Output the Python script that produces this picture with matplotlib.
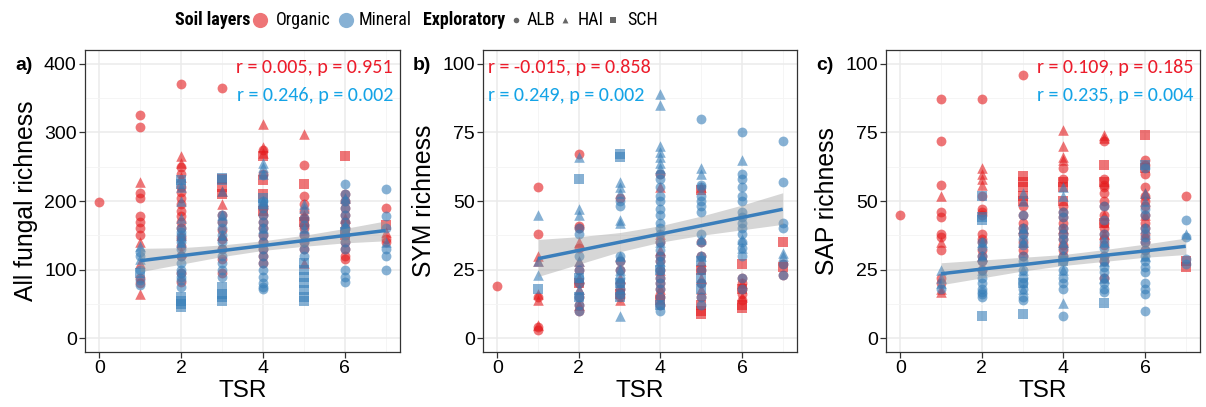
import matplotlib
matplotlib.use("Agg")
import matplotlib.pyplot as plt
from matplotlib import font_manager

# ---------------- data ----------------
# values per TSR level: {TSR: [richness, ...]}
A_ORG_ALB = {0: [198], 1: [325, 308, 212, 205, 178, 170, 160, 150, 88, 80],
             2: [370, 250, 240, 220, 213, 205, 195, 185, 178, 170, 160, 148, 135, 120, 95, 82],
             3: [365, 180, 170, 158, 145, 130, 115, 95],
             4: [275, 240, 190, 180, 170, 160, 150, 140, 130, 120, 110],
             5: [252, 208, 195, 185, 175, 165, 160, 150, 140, 130],
             6: [210, 200, 190, 180, 170, 160, 150, 140, 130, 120, 115], 7: [190, 145, 140]}
A_ORG_HAI = {1: [228, 140, 110, 65], 2: [265, 255, 235, 150, 125], 3: [215, 195, 150],
             4: [312, 278, 270, 200], 5: [298, 180, 110], 6: [205, 175], 7: [155]}
A_ORG_SCH = {3: [232, 220, 210], 4: [265, 230, 210, 185], 5: [225, 170], 6: [265, 150], 7: [165]}
A_MIN_ALB = {1: [125, 120, 100, 85, 78],
             2: [160, 155, 150, 145, 140, 130, 120, 110, 100, 95, 90, 85, 75],
             3: [180, 170, 160, 150, 140, 130, 120, 110, 100, 90],
             4: [238, 200, 190, 180, 170, 160, 150, 140, 130, 120, 110, 100, 90, 80, 75, 72],
             5: [175, 165, 150, 140, 130, 120],
             6: [225, 210, 200, 190, 180, 170, 160, 150, 140, 130, 100, 90, 82],
             7: [217, 178, 160, 130, 120, 100]}
A_MIN_HAI = {1: [135, 115], 2: [220, 200, 175, 140], 3: [215, 180, 150],
             4: [255, 250, 240, 200, 160], 5: [195, 190, 160], 6: [205, 165], 7: [140]}
A_MIN_SCH = {1: [95], 2: [230, 225, 60, 55, 50, 45], 3: [233, 230, 75, 65, 60, 55],
             4: [205, 195], 5: [110, 100, 90, 80, 70, 60, 55], 6: [155]}

B_ORG_ALB = {0: [19], 1: [55, 38, 15, 4, 3], 2: [67, 41, 40, 33, 25, 20, 15, 12, 10],
             3: [51, 28, 25, 20, 18, 15], 4: [60, 35, 30, 28, 25, 22, 20, 18, 15, 12],
             5: [35, 30, 25, 20, 15], 6: [22, 20, 18, 16, 14], 7: [27, 23]}
B_ORG_HAI = {1: [30, 28, 16, 14, 5], 2: [35, 28, 22, 18, 12], 3: [22, 18, 14],
             4: [55, 38, 32, 25, 18], 5: [55, 28, 22, 18], 6: [20, 15]}
B_ORG_SCH = {2: [20], 3: [16], 4: [14], 5: [54, 25, 12, 10, 9], 6: [27, 18, 12, 11], 7: [35, 26]}
B_MIN_ALB = {2: [40, 38, 30, 25, 22, 20, 15, 12, 10],
             3: [50, 48, 30, 28, 25, 22, 20, 18, 16],
             4: [60, 58, 55, 52, 50, 47, 45, 42, 40, 38, 35, 32, 30, 28, 25, 22, 20, 18, 15, 12, 10],
             5: [80, 56, 55, 52, 50, 48, 46, 38, 35, 30, 25, 20, 15, 12],
             6: [75, 60, 58, 55, 52, 50, 46, 44, 42, 40, 38, 35, 33, 30, 22, 18],
             7: [72, 57, 42, 40, 27, 23]}
B_MIN_HAI = {1: [45, 28, 23], 2: [66, 47, 45, 28, 18], 3: [57, 55, 53, 43, 42, 30, 25, 8],
             4: [89, 85, 70, 68, 66, 64, 62, 35, 28], 5: [62, 60, 36, 30], 6: [65, 36, 33], 7: [31, 30]}
B_MIN_SCH = {1: [18], 2: [58, 22, 15], 3: [67, 66, 20, 15], 4: [25, 12], 5: [28, 22, 18]}

C_ORG_ALB = {0: [45], 1: [87, 72, 56, 46, 44, 38, 37, 32, 22, 20],
             2: [87, 52, 47, 46, 45, 38, 36, 35, 32, 30, 28, 25],
             3: [96, 48, 45, 42, 40, 38, 35, 32, 30],
             4: [62, 58, 48, 46, 44, 42, 40, 38, 36, 34, 32, 30],
             5: [72, 58, 56, 55, 53, 50, 48, 45, 42, 40, 38, 36, 34, 30, 28, 22],
             6: [65, 63, 60, 55, 52, 50, 48, 45, 42, 40, 38, 35, 32], 7: [52]}
C_ORG_HAI = {1: [52, 35, 18, 17], 2: [62, 60, 58, 56, 30], 3: [40, 35],
             4: [76, 70, 66, 65, 40, 35], 5: [74, 73, 45, 38], 6: [53, 45, 38]}
C_ORG_SCH = {3: [59, 57, 55, 52, 50], 4: [57, 55, 50], 5: [63, 57, 42], 6: [74, 62], 7: [28, 26]}
C_MIN_ALB = {1: [18], 2: [35, 33, 30, 28, 25, 22, 20, 18, 17, 16, 15],
             3: [45, 40, 38, 36, 34, 30, 28, 25, 22, 20, 18, 15, 14],
             4: [46, 44, 40, 38, 36, 33, 30, 28, 25, 22, 20, 18, 8],
             5: [48, 43, 38, 35, 33, 30, 28, 26, 24, 22, 20, 18, 17],
             6: [62, 47, 45, 40, 37, 35, 32, 30, 28, 26, 24, 20, 18, 16, 10],
             7: [43, 37, 29, 27]}
C_MIN_HAI = {1: [25, 22, 20], 2: [35, 30, 25], 3: [53, 50, 40, 35, 25, 18],
             4: [55, 52, 35, 30, 25, 13], 5: [35, 28, 22], 6: [53, 50, 40, 30], 7: [38]}
C_MIN_SCH = {2: [52, 44, 43, 8], 3: [20, 9], 4: [28], 5: [13], 6: [63]}

# linear fit (mineral) with 95% CI, read at TSR 1..7
FIT_X = [1, 2, 3, 4, 5, 6, 7]
A_FIT = [113, 120.3, 127.7, 135, 142.3, 149.7, 157]
A_LO = [97, 108, 119, 128, 134, 139, 142]
A_HI = [131, 132, 136, 142, 150, 160, 171]
B_FIT = [29, 32, 35, 38, 41, 44, 47]
B_LO = [22.5, 27, 31.5, 35, 37.5, 39.5, 41.5]
B_HI = [36, 37, 38.5, 41, 44.5, 48.5, 53]
C_FIT = [23.5, 25.2, 26.8, 28.5, 30.2, 31.8, 33.5]
C_LO = [19.5, 22, 24.5, 26.5, 28, 29.5, 30.5]
C_HI = [27.5, 28.5, 29.5, 30.5, 32.3, 34.3, 36.5]

Y_LABELS = ["All fungal richness", "SYM richness", "SAP richness"]
PANEL_TAGS = ["a)", "b)", "c)"]
ORG_STATS = ["r = 0.005, p = 0.951", "r = -0.015, p = 0.858", "r = 0.109, p = 0.185"]
MIN_STATS = ["r = 0.246, p = 0.002", "r = 0.249, p = 0.002", "r = 0.235, p = 0.004"]
Y_MAX = [400, 100, 100]
Y_TICKS = [[0, 100, 200, 300, 400], [0, 25, 50, 75, 100], [0, 25, 50, 75, 100]]
X_TICKS = [0, 2, 4, 6]

# legend texts
LEG_SOIL_TITLE = "Soil layers"
LEG_SOIL = ["Organic", "Mineral"]
LEG_EXP_TITLE = "Exploratory"
LEG_EXP = ["ALB", "HAI", "SCH"]

# ---------------- fonts ----------------
avail = {f.name for f in font_manager.fontManager.ttflist}


def pick(cands, default):
    for c in cands:
        if c in avail:
            return [c, "DejaVu Sans"]
    return default


FONT = pick(["Liberation Sans", "Arimo"], ["DejaVu Sans"])
plt.rcParams['font.family'] = FONT
NARROW = pick(["Arial Narrow", "Liberation Sans Narrow", "Roboto Condensed", "Archivo Narrow",
               "PT Sans Narrow", "Fira Sans Condensed"], None)
LEG_FONT = NARROW if NARROW else FONT
LEG_FS = 13 if NARROW else 11
STAT_FONT = pick(["Carlito", "Lato", "Open Sans"], FONT)

RED = "#E41A1C"
BLUE = "#377EB8"
TXT_RED = "#EC1C2B"
TXT_BLUE = "#14A3E6"
MARKERS = {"ALB": "o", "HAI": "^", "SCH": "s"}
SIZES = {"ALB": 50, "HAI": 58, "SCH": 42}

W, H = 1206, 407
fig = plt.figure(figsize=(W / 100, H / 100), dpi=100)

panels = [
    ([A_ORG_ALB, A_ORG_HAI, A_ORG_SCH], [A_MIN_ALB, A_MIN_HAI, A_MIN_SCH], A_FIT, A_LO, A_HI),
    ([B_ORG_ALB, B_ORG_HAI, B_ORG_SCH], [B_MIN_ALB, B_MIN_HAI, B_MIN_SCH], B_FIT, B_LO, B_HI),
    ([C_ORG_ALB, C_ORG_HAI, C_ORG_SCH], [C_MIN_ALB, C_MIN_HAI, C_MIN_SCH], C_FIT, C_LO, C_HI),
]
lefts = [85, 483, 886]
widths = [315, 314, 314]
top, bottom = 50, 352
ah = bottom - top


def scatter_group(ax, groups, color):
    for site, grp in zip(["ALB", "HAI", "SCH"], groups):
        xs, ys = [], []
        for k, vals in grp.items():
            xs += [k] * len(vals)
            ys += vals
        ax.scatter(xs, ys, marker=MARKERS[site], s=SIZES[site], color=color,
                   alpha=0.6, linewidths=0, zorder=3)


for i, (org, mine, fit, lo, hi) in enumerate(panels):
    ax = fig.add_axes([lefts[i] / W, (H - bottom) / H, widths[i] / W, ah / H])
    ym = Y_MAX[i]
    ax.set_xlim(-0.35, 7.35)
    ax.set_ylim(-0.05 * ym, 1.05 * ym)
    ax.set_xticks(X_TICKS)
    ax.set_xticks([1, 3, 5, 7], minor=True)
    ax.set_yticks(Y_TICKS[i])
    ax.set_yticks([t + ym / 8 for t in Y_TICKS[i][:-1]], minor=True)
    ax.grid(True, which="major", color="#EBEBEB", lw=1.1, zorder=0)
    ax.grid(True, which="minor", color="#F4F4F4", lw=0.6, zorder=0)
    ax.set_axisbelow(True)
    for s in ax.spines.values():
        s.set_color("#333333")
        s.set_linewidth(0.9)
    ax.tick_params(which="major", length=4, width=0.9, color="#333333",
                   labelsize=14, labelcolor="black", pad=2)
    ax.tick_params(which="minor", length=0)

    scatter_group(ax, org, RED)
    scatter_group(ax, mine, BLUE)
    ax.fill_between(FIT_X, lo, hi, color="#999999", alpha=0.4, lw=0, zorder=4)
    ax.plot(FIT_X, fit, color="#3A7EBB", lw=2.5, zorder=5, solid_capstyle="butt")

    ax.set_xlabel("TSR", fontsize=17.5, labelpad=2)
    ax.set_ylabel(Y_LABELS[i], fontsize=17.8, labelpad=4)

    y1 = (bottom - 68) / ah
    y2 = (bottom - 95) / ah
    if i == 1:
        xpos, ha = 0.015, "left"
    else:
        xpos, ha = 0.978, "right"
    ax.text(xpos, y1, ORG_STATS[i], transform=ax.transAxes, ha=ha, va="center",
            color=TXT_RED, fontsize=14.5, family=STAT_FONT)
    ax.text(xpos, y2, MIN_STATS[i], transform=ax.transAxes, ha=ha, va="center",
            color=TXT_BLUE, fontsize=14.5, family=STAT_FONT)

    fig.text((lefts[i] - 70) / W, (H - 65) / H, PANEL_TAGS[i], fontsize=14,
             fontweight="bold", ha="left", va="center")

# ---------------- legend ----------------
lg = fig.add_axes([0, 0, 1, 1], facecolor="none")
lg.set_xlim(0, W)
lg.set_ylim(H, 0)
lg.axis("off")
ly = 20
kw = dict(fontsize=LEG_FS, va="center", ha="left", family=LEG_FONT)
lg.text(175, ly, LEG_SOIL_TITLE, fontweight="bold", **kw)
lg.scatter([260], [ly], s=120, color=RED, alpha=0.6, linewidths=0)
lg.text(276, ly, LEG_SOIL[0], **kw)
lg.scatter([346], [ly], s=120, color=BLUE, alpha=0.6, linewidths=0)
lg.text(359, ly, LEG_SOIL[1], **kw)
lg.text(423, ly, LEG_EXP_TITLE, fontweight="bold", **kw)
lg.scatter([516], [ly], s=16, marker="o", color="black", alpha=0.6, linewidths=0)
lg.text(527, ly, LEG_EXP[0], **kw)
lg.scatter([565], [ly], s=18, marker="^", color="black", alpha=0.6, linewidths=0)
lg.text(578, ly, LEG_EXP[1], **kw)
lg.scatter([613], [ly], s=14, marker="s", color="black", alpha=0.6, linewidths=0)
lg.text(627, ly, LEG_EXP[2], **kw)

fig.savefig("out.png", dpi=100)
